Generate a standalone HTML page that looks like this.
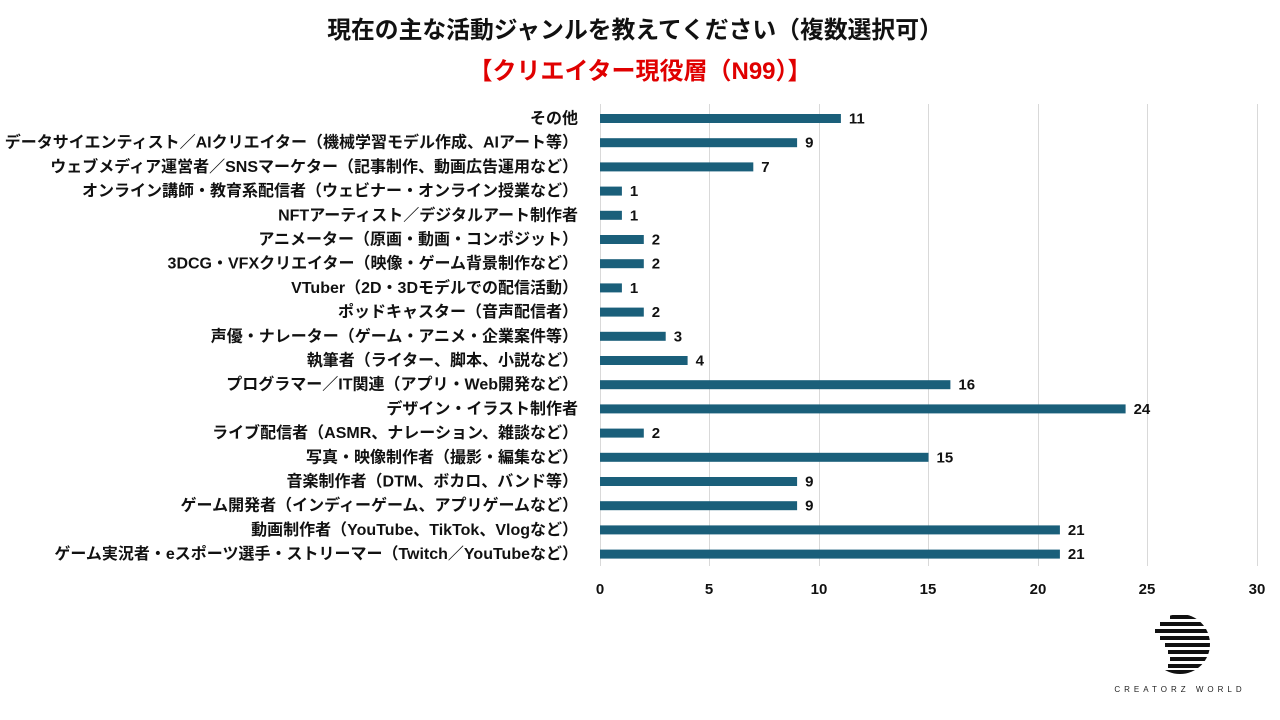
<!DOCTYPE html>
<html><head><meta charset="utf-8"><style>
html,body{margin:0;padding:0;background:#fff;}
svg{display:block;font-family:"Liberation Sans","Noto Sans CJK JP",sans-serif;}
</style></head><body>
<svg width="1280" height="720" viewBox="0 0 1280 720" xmlns="http://www.w3.org/2000/svg">
<rect width="1280" height="720" fill="#fff"/>
<text x="635" y="38" text-anchor="middle" font-size="23.8" font-weight="bold" fill="#111">現在の主な活動ジャンルを教えてください（複数選択可）</text>
<text x="640" y="79" text-anchor="middle" font-size="24" font-weight="bold" fill="#e00000">【クリエイター現役層（N99）】</text>
<g stroke="#d9d9d9" stroke-width="1">
<line x1="600.5" y1="104" x2="600.5" y2="566"/>
<line x1="709.5" y1="104" x2="709.5" y2="566"/>
<line x1="819.5" y1="104" x2="819.5" y2="566"/>
<line x1="928.5" y1="104" x2="928.5" y2="566"/>
<line x1="1038.5" y1="104" x2="1038.5" y2="566"/>
<line x1="1147.5" y1="104" x2="1147.5" y2="566"/>
<line x1="1257.5" y1="104" x2="1257.5" y2="566"/>
</g>
<g font-size="15" font-weight="bold" fill="#111" text-anchor="middle">
<text x="600" y="594">0</text><text x="709" y="594">5</text><text x="819" y="594">10</text><text x="928" y="594">15</text><text x="1038" y="594">20</text><text x="1147" y="594">25</text><text x="1257" y="594">30</text>
</g>
<g font-size="16" font-weight="bold" fill="#111" text-anchor="end">
<text x="578" y="123.5">その他</text>
<text x="578" y="147.7">データサイエンティスト／AIクリエイター（機械学習モデル作成、AIアート等）</text>
<text x="578" y="171.9">ウェブメディア運営者／SNSマーケター（記事制作、動画広告運用など）</text>
<text x="578" y="196.1">オンライン講師・教育系配信者（ウェビナー・オンライン授業など）</text>
<text x="578" y="220.3">NFTアーティスト／デジタルアート制作者</text>
<text x="578" y="244.5">アニメーター（原画・動画・コンポジット）</text>
<text x="578" y="268.7">3DCG・VFXクリエイター（映像・ゲーム背景制作など）</text>
<text x="578" y="292.9">VTuber（2D・3Dモデルでの配信活動）</text>
<text x="578" y="317.1">ポッドキャスター（音声配信者）</text>
<text x="578" y="341.3">声優・ナレーター（ゲーム・アニメ・企業案件等）</text>
<text x="578" y="365.5">執筆者（ライター、脚本、小説など）</text>
<text x="578" y="389.7">プログラマー／IT関連（アプリ・Web開発など）</text>
<text x="578" y="413.9">デザイン・イラスト制作者</text>
<text x="578" y="438.1">ライブ配信者（ASMR、ナレーション、雑談など）</text>
<text x="578" y="462.3">写真・映像制作者（撮影・編集など）</text>
<text x="578" y="486.5">音楽制作者（DTM、ボカロ、バンド等）</text>
<text x="578" y="510.7">ゲーム開発者（インディーゲーム、アプリゲームなど）</text>
<text x="578" y="534.9">動画制作者（YouTube、TikTok、Vlogなど）</text>
<text x="578" y="559.1">ゲーム実況者・eスポーツ選手・ストリーマー（Twitch／YouTubeなど）</text>
</g>
<g fill="#1a5f7a">
<rect x="600" y="114" width="240.9" height="9"/>
<rect x="600" y="138.2" width="197.1" height="9"/>
<rect x="600" y="162.4" width="153.3" height="9"/>
<rect x="600" y="186.6" width="21.9" height="9"/>
<rect x="600" y="210.8" width="21.9" height="9"/>
<rect x="600" y="235" width="43.8" height="9"/>
<rect x="600" y="259.2" width="43.8" height="9"/>
<rect x="600" y="283.4" width="21.9" height="9"/>
<rect x="600" y="307.6" width="43.8" height="9"/>
<rect x="600" y="331.8" width="65.7" height="9"/>
<rect x="600" y="356" width="87.6" height="9"/>
<rect x="600" y="380.2" width="350.4" height="9"/>
<rect x="600" y="404.4" width="525.6" height="9"/>
<rect x="600" y="428.6" width="43.8" height="9"/>
<rect x="600" y="452.8" width="328.5" height="9"/>
<rect x="600" y="477" width="197.1" height="9"/>
<rect x="600" y="501.2" width="197.1" height="9"/>
<rect x="600" y="525.4" width="459.9" height="9"/>
<rect x="600" y="549.6" width="459.9" height="9"/>
</g>
<g font-size="15" font-weight="bold" fill="#111">
<text x="848.9" y="123.5">11</text>
<text x="805.1" y="147.7">9</text>
<text x="761.3" y="171.9">7</text>
<text x="629.9" y="196.1">1</text>
<text x="629.9" y="220.3">1</text>
<text x="651.8" y="244.5">2</text>
<text x="651.8" y="268.7">2</text>
<text x="629.9" y="292.9">1</text>
<text x="651.8" y="317.1">2</text>
<text x="673.7" y="341.3">3</text>
<text x="695.6" y="365.5">4</text>
<text x="958.4" y="389.7">16</text>
<text x="1133.6" y="413.9">24</text>
<text x="651.8" y="438.1">2</text>
<text x="936.5" y="462.3">15</text>
<text x="805.1" y="486.5">9</text>
<text x="805.1" y="510.7">9</text>
<text x="1067.9" y="534.9">21</text>
<text x="1067.9" y="559.1">21</text>
</g>
<g transform="translate(1180,644)">
<clipPath id="c"><circle r="30"/></clipPath>
<g clip-path="url(#c)" fill="#111">
<rect x="-10" y="-29" width="30" height="4"/>
<rect x="-20" y="-22" width="50" height="4"/>
<rect x="-25" y="-15" width="55" height="4"/>
<rect x="-20" y="-8" width="50" height="4"/>
<rect x="-15" y="-1" width="45" height="4"/>
<rect x="-12" y="6" width="42" height="4"/>
<rect x="-10" y="13" width="40" height="4"/>
<rect x="-12" y="20" width="42" height="4"/>
<rect x="-20" y="26" width="40" height="4"/>
</g>
<text x="0" y="48" text-anchor="middle" font-size="8" letter-spacing="4" fill="#222">CREATORZ WORLD</text>
</g>
</svg>
</body></html>
